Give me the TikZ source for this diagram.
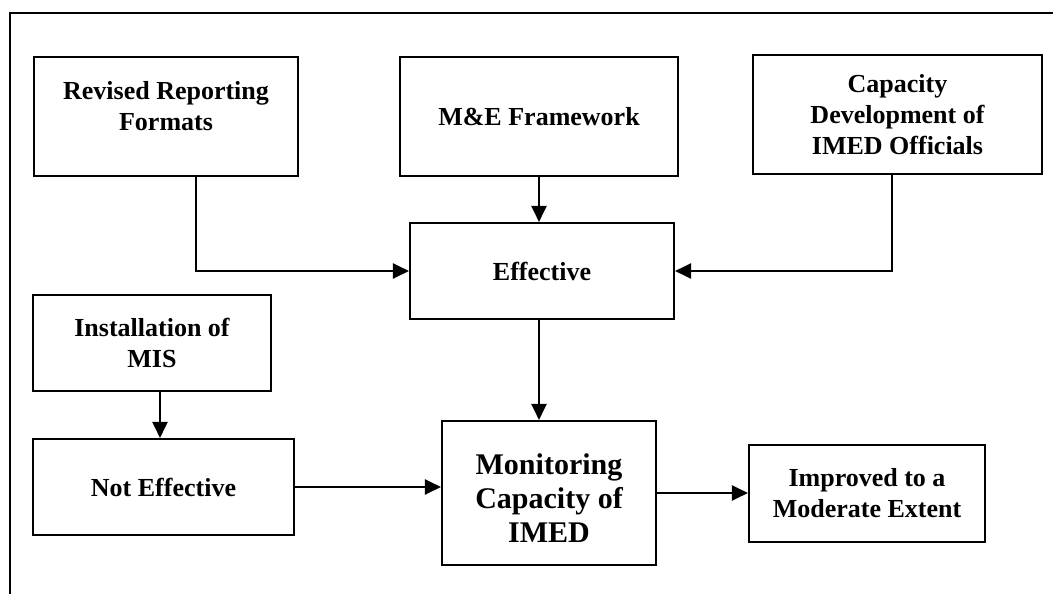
\documentclass[tikz,border=0pt]{standalone}
\usepackage{fontspec}
\setmainfont{Liberation Serif}
\usetikzlibrary{arrows.meta}
\tikzset{
	box/.style={draw, line width=2.1pt, align=center, font=\fontsize{26}{31}\selectfont\bfseries, inner sep=0pt},
	arr/.style={line width=2.1pt, -{Triangle[length=16pt,width=15pt]}}
}

\begin{document}
\begin{tikzpicture}[x=1pt, y=-1pt]
			%%%%% START %%%%%
			\useasboundingbox (0, 0) rectangle (1053, 594);
			
			\draw[line width=2.1pt] (10, 594) -- (10, 13) -- (1053, 13);
			
			\node[box, minimum width=264pt, minimum height=119pt] (rrf) at (166, 116.5) {Revised Reporting\\Formats\\[-20pt]\strut};
			\node[box, minimum width=278pt, minimum height=119pt] (mef) at (539, 116.5) {M\&E Framework};
			\node[box, minimum width=289pt, minimum height=119pt] (cap) at (897.5, 114.5) {Capacity\\Development of\\IMED Officials};
			
			\node[box, minimum width=264pt, minimum height=96pt] (eff) at (542, 271) {Effective};
			
			\node[box, minimum width=238pt, minimum height=96pt] (mis) at (152, 343) {Installation of\\MIS};
			\node[box, minimum width=261pt, minimum height=96pt] (neff) at (163.5, 487) {Not Effective};
			
			\node[box, minimum width=214pt, minimum height=144pt, font=\fontsize{30}{34}\selectfont\bfseries] (mon) at (549, 493) {\strut\\[-26pt]Monitoring\\Capacity of\\IMED};
			\node[box, minimum width=236pt, minimum height=97pt] (imp) at (867, 493.5) {Improved to a\\Moderate Extent};
			
			\draw[arr] ([xshift=30pt]rrf.south) |- (eff.west);
			\draw[arr] ([xshift=-5.5pt]cap.south) |- (eff.east);
			\draw[arr] (mef.south) -- (mef.south |- eff.north);
			\draw[arr] ([xshift=-3pt]eff.south) -- ([xshift=-3pt]eff.south |- mon.north);
			\draw[arr] ([xshift=8pt]mis.south) -- ([xshift=8pt]mis.south |- neff.north);
			\draw[arr] (neff.east) -- (neff.east -| mon.west);
			\draw[arr] (mon.east) -- (mon.east -| imp.west);
			
			%%%%% END %%%%%
		\end{tikzpicture}
\end{document}
